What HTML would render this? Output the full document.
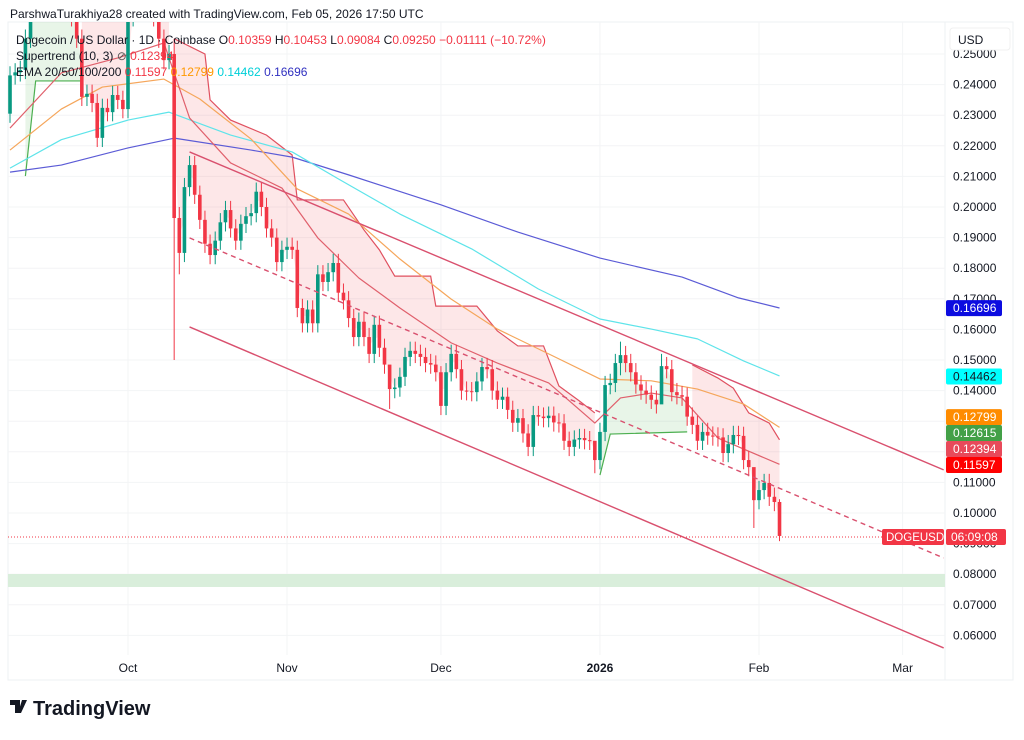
<!DOCTYPE html>
<html><head><meta charset="utf-8"><style>
body{margin:0;background:#fff;font-family:"Liberation Sans",sans-serif;}
svg text{font-family:"Liberation Sans",sans-serif;}
</style></head><body>
<svg id="c" width="1024" height="735" viewBox="0 0 1024 735" xmlns="http://www.w3.org/2000/svg">
<defs><clipPath id="plot"><rect x="8" y="22" width="937" height="633"/></clipPath></defs>
<rect width="1024" height="735" fill="#fff"/>
<text x="10" y="18" font-size="12" fill="#131722">ParshwaTurakhiya28 created with TradingView.com, Feb 05, 2026 17:50 UTC</text>
<rect x="8" y="22" width="1005" height="658" fill="none" stroke="#eef0f3"/>
<line x1="945" y1="22" x2="945" y2="680" stroke="#eef0f3"/>
<g id="grid"></g>
<g id="fills" clip-path="url(#plot)"></g>
<rect x="8" y="574" width="937" height="13" fill="#d9eedb"/>
<g id="lines" clip-path="url(#plot)"></g>
<g id="candles" clip-path="url(#plot)"></g>
<g id="channel" clip-path="url(#plot)"></g>
<line x1="8" y1="537" x2="882" y2="537" stroke="#f23645" stroke-dasharray="1,2"/>
<g id="axis"></g>
<g id="xaxis"></g>
<g font-size="12">
<text x="16" y="44" fill="#131722">Dogecoin / US Dollar · 1D · Coinbase <tspan fill="#131722">O</tspan><tspan fill="#f23645">0.10359</tspan> <tspan fill="#131722">H</tspan><tspan fill="#f23645">0.10453</tspan> <tspan fill="#131722">L</tspan><tspan fill="#f23645">0.09084</tspan> <tspan fill="#131722">C</tspan><tspan fill="#f23645">0.09250</tspan> <tspan fill="#f23645">−0.01111 (−10.72%)</tspan></text>
<text x="16" y="60" fill="#131722">Supertrend (10, 3) <tspan fill="#555">⊘</tspan> <tspan fill="#f23645">0.12394</tspan></text>
<text x="16" y="76" fill="#131722">EMA 20/50/100/200 <tspan fill="#f23645">0.11597</tspan> <tspan fill="#ff9800">0.12799</tspan> <tspan fill="#00cfd8">0.14462</tspan> <tspan fill="#3030c0">0.16696</tspan></text>
</g>
<rect x="950" y="28" width="60" height="22" rx="3" fill="#fff" stroke="#f0f0f0"/>
<text x="958" y="44" font-size="12" fill="#131722">USD</text>
<g>
<path d="M10 700h10v13h-5v-8h-5z M22 700h5l-6 13h-3z" fill="#131722"/>
<text x="33" y="715" font-size="20" font-weight="bold" fill="#131722">TradingView</text>
</g>
</svg>
<script>
// ---- data ----
const startDay = -23; // Sep 8 relative to Oct 1
const firstOpen = 0.2305;
const closes = [.243,.244,.2448,.255,.268,.275,.27,.265,.27,.272,.28,.265,.262,.255,.236,.237,.234,.2226,.2324,.231,.2366,.235,.232,.262,.265,.27,.265,.268,.262,.255,.248,.25,
.1964,.185,.2065,.2137,.204,.1958,.188,.1843,.189,.195,.199,.193,.189,.1945,.197,.198,.205,.200,.193,.190,.182,.186,.187,.186,.167,.162,.1665,.162,.178,.1755,.1787,.1817,.172,.1695,.1637,.1575,.1625,.1575,.152,.1615,.154,.1485,.1405,.141,.1445,.151,.153,.152,.151,.149,.1485,.146,.135,.146,.152,.147,.140,.1398,.1395,.143,
.1477,.147,.140,.137,.138,.1337,.1295,.131,.126,.1216,.132,.1315,.131,.1318,.1296,.1293,.1236,.1216,.124,.1245,.1238,.1236,.1173,.1265,.1418,.1425,.149,.1516,.149,.146,.142,.140,.1387,.137,.1355,.148,.147,.1395,.1385,.138,.1315,.1288,.1236,.1265,.1253,.1250,.1247,.1196,.1225,.1255,.1252,.1173,.115,.1042,.1075,.1098,.1053,.1036,.0925];
const wickIdx = [32,33,74,84,114,119,127,145,150];
const wickHi  = [.255,.2,.1445,.148,.12,.156,.152,.1075,.1045];
const wickLo  = [.150,.178,.134,.132,.113,.145,.1395,.0951,.0908];
const ema200Days=[-23,-13,0,9,24,32,43,61,76,92,108,119,127];
const ema200Vals=[.2114,.2137,.2193,.2225,.2186,.2163,.2105,.2007,.1918,.1833,.1771,.1703,.1670];
const ema100Days=[-23,-13,0,8,20,32,41,53,67,80,92,102,111,120,127];
const ema100Vals=[.2127,.222,.2284,.231,.2235,.218,.2092,.1977,.1863,.1732,.1634,.1601,.1569,.1497,.1448];
const ema50Days=[-23,-13,-5,7,14,24,33,43,53,63,72,82,92,102,111,120,127];
const ema50Vals=[.2186,.232,.2392,.2418,.2353,.2222,.2059,.1977,.183,.1699,.1601,.152,.1438,.1432,.1405,.1356,.128];
const ema20Days=[-23,-13,-2,7,12,20,30,37,45,53,63,72,82,91,96,102,108,115,127];
const ema20Vals=[.2258,.2438,.2487,.2536,.2291,.2144,.2062,.1899,.1768,.167,.1556,.149,.1425,.1294,.1376,.1392,.1376,.1245,.1159];
const stGreen1Days=[-20,-18,-9]; const stGreen1Vals=[.2101,.2412,.2412];
const stRed1Days=[-9,8]; const stRed1Vals=[.266,.266];
const stRed2Days=[9,15,16,20,27,32,33,42,46,49,52,59,60,68,72,76,81,84,88,91];
const stRed2Vals=[.255,.25,.235,.2284,.2235,.217,.2023,.2023,.1925,.186,.1774,.1774,.1676,.1676,.1595,.1546,.1546,.1415,.1366,.1327];
const stGreen2Days=[92,94,109]; const stGreen2Vals=[.1124,.1258,.1265];
const stRed3Days=[110,115,118,121,125,127]; const stRed3Vals=[.1484,.1441,.1408,.1327,.1294,.1239];
const priceTicks=[.25,.24,.23,.22,.21,.20,.19,.18,.17,.16,.15,.14,.13,.12,.11,.10,.09,.08,.07,.06];
const monthLabels=["Oct","Nov","Dec","2026","Feb","Mar"];
const monthDays=[0,31,61,92,123,151];
const tagText=["0.16696","0.14462","0.12799","0.12615","0.12394","0.11597"];
const tagVals=[.16696,.14462,.12799,.12615,.12394,.11597];
const tagFill=["#0c0ce0","#00ffff","#ff8c00","#43a047","#e84a5a","#ff0000"];
const tagInk=["#fff","#131722","#fff","#fff","#fff","#fff"];
const chanUpper=[[12,.2180],[159,.1141]], chanMid=[[12,.1899],[159,.0853]], chanLower=[[12,.1608],[159,.0559]];
// ---- scales ----
const X=d=>128+d*5.13;
const Y=p=>513-(p-0.1)*3060;
const NS="http://www.w3.org/2000/svg";
function mk(tag,parent,attrs){const e=document.createElementNS(NS,tag);for(const k in attrs)e.setAttribute(k,attrs[k]);document.getElementById(parent).appendChild(e);return e;}
priceTicks.forEach(p=>{
 const l=mk('line','grid',{x1:8,x2:945,y1:Y(p),y2:Y(p),stroke:'#f3f4f6'});
 
 
 const t=mk('text','axis',{x:953,y:Y(p)+4,'font-size':12,fill:'#131722'});
 t.textContent=p.toFixed(5);
 
 
});
monthDays.forEach((d,i)=>{
 const l=mk('line','grid',{x1:X(d),x2:X(d),y1:22,y2:655,stroke:'#f3f4f6'});
 
 
 const t=mk('text','xaxis',{x:X(d),y:672,'font-size':12,fill:'#131722','text-anchor':'middle','font-weight':monthLabels[i]==='2026'?'bold':'normal'});
 t.textContent=monthLabels[i];
 
 
});
const opens=closes.map((c,i)=>i===0?firstOpen:closes[i-1]);
function mid(d){const i=Math.round(d-startDay);const k=Math.max(0,Math.min(closes.length-1,i));return (opens[k]+closes[k])/2;}
function pts(days,vals){return days.map((d,i)=>X(d)+','+Y(vals[i])).join(' ');}
function seg(days,vals,color,fill){
 const p=mk('polyline','lines',{points:pts(days,vals),fill:'none',stroke:color,'stroke-width':1.2});
 
 
 const a=[],b=[];
 for(let d=days[0];d<=days[days.length-1];d++){
  let j=0;while(j<days.length-2&&days[j+1]<d)j++;
  const t=days[j+1]===days[j]?0:(d-days[j])/(days[j+1]-days[j]);
  a.push(X(d)+','+Y(vals[j]+(vals[j+1]-vals[j])*Math.min(1,Math.max(0,t))));
  b.unshift(X(d)+','+Y(mid(d)));
 }
 const f=mk('polygon','fills',{points:a.concat(b).join(' '),fill:fill});
 
 
}
seg(stGreen1Days,stGreen1Vals,'#4caf50','rgba(76,175,80,0.13)');
seg(stRed1Days,stRed1Vals,'#e0505f','rgba(242,54,69,0.12)');
seg(stRed2Days,stRed2Vals,'#e0505f','rgba(242,54,69,0.12)');
seg(stGreen2Days,stGreen2Vals,'#4caf50','rgba(76,175,80,0.13)');
seg(stRed3Days,stRed3Vals,'#e0505f','rgba(242,54,69,0.12)');
[[ema200Days,ema200Vals,'#5b5bd6','ema-200'],[ema100Days,ema100Vals,'#5ee4ea','ema-100'],[ema50Days,ema50Vals,'#f5a65b','ema-50'],[ema20Days,ema20Vals,'#e0606c','ema-20']].forEach(s=>{
 const p=mk('polyline','lines',{points:pts(s[0],s[1]),fill:'none',stroke:s[2],'stroke-width':1.2,'stroke-linejoin':'round'});
 
 
});
closes.forEach((c,i)=>{
 const o=opens[i],d=startDay+i,x=X(d);
 const w=wickIdx.indexOf(i);
 const hi=w>=0?wickHi[w]:Math.max(o,c)+0.003, lo=w>=0?wickLo[w]:Math.min(o,c)-0.003;
 const col=c>=o?'#089981':'#f23645';
 const l=mk('line','candles',{x1:x,x2:x,y1:Y(hi),y2:Y(lo),stroke:col,'stroke-width':1});
 
 
 const r=mk('rect','candles',{x:x-1.8,width:3.6,y:Y(Math.max(o,c)),height:Math.max(1,Math.abs(Y(o)-Y(c))),fill:col});
 
 
});
[[chanUpper,'','channel-upper'],[chanMid,'5,4','channel-mid'],[chanLower,'','channel-lower']].forEach(c=>{
 const l=mk('line','channel',{x1:X(c[0][0][0]),y1:Y(c[0][0][1]),x2:X(c[0][1][0]),y2:Y(c[0][1][1]),stroke:'#d9506e','stroke-width':1.4,'stroke-dasharray':c[1]});
 
 
});
// axis tags with collision avoidance (stack downward/upward around cluster)
let ys=tagVals.map(Y);
for(let k=0;k<6;k++){for(let i=1;i<ys.length;i++){if(ys[i]-ys[i-1]<16){const m=(ys[i]+ys[i-1])/2;ys[i-1]=m-8;ys[i]=m+8;}}}
tagVals.forEach((v,i)=>{
 const cy=ys[i];
 const r=mk('rect','axis',{x:946,y:cy-8,width:56,height:16,rx:2,fill:tagFill[i]});
 
 
 const tx=mk('text','axis',{x:953,y:cy+4,'font-size':12,fill:tagInk[i]});
 tx.textContent=tagText[i];
 
 
});
const r1=mk('rect','axis',{x:882,y:529,width:62,height:16,rx:2,fill:'#f23645'});


const t1=mk('text','axis',{x:886,y:541,'font-size':11.5,fill:'#fff'});t1.textContent='DOGEUSD';


const r2=mk('rect','axis',{x:946,y:529,width:60,height:16,rx:2,fill:'#f23645'});


const t2=mk('text','axis',{x:951,y:541,'font-size':12,fill:'#fff'});t2.textContent='06:09:08';


</script>
</body></html>
